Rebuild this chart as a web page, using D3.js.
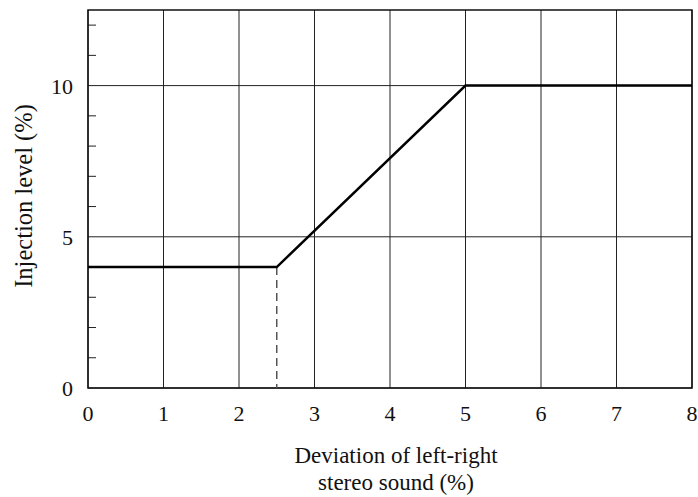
<!DOCTYPE html>
<meta charset="utf-8">
<style>
    html, body { margin: 0; padding: 0; background: #fff; }
    svg text { font-family: 'Liberation Serif', 'Times New Roman', serif; fill: #111; }
</style>
<body>
<svg id="chart" width="698" height="497"></svg>
<script src="https://d3js.org/d3.v7.min.js"></script>
<script>
    // curve points: deviation (%) -> injection level (%)
    var deviation = [0, 2.5, 5, 8];
    var injection = [4, 4, 10, 10];
    var xTicks = [0, 1, 2, 3, 4, 5, 6, 7, 8];
    var yLabelTicks = [0, 5, 10];
    var yMinorTicks = [1, 2, 3, 4, 6, 7, 8, 9, 11, 12];
    var kneeX = 2.5;

    var svg = d3.select("#chart");
    var pLeft = 88, pRight = 692, pTop = 10, pBottom = 388;

    var x = d3.scaleLinear().domain([0, 8]).range([pLeft, pRight]);
    var y = d3.scaleLinear().domain([0, 12.5]).range([pBottom, pTop]);

    // vertical grid
    svg.selectAll(".vgrid").data(xTicks).enter().append("line")
        .attr("x1", function (d) { return x(d); }).attr("x2", function (d) { return x(d); })
        .attr("y1", pTop).attr("y2", pBottom)
        .style("stroke", "#222").style("stroke-width", "1px");

    // horizontal grid at labelled ticks
    svg.selectAll(".hgrid").data(yLabelTicks).enter().append("line")
        .attr("x1", pLeft).attr("x2", pRight)
        .attr("y1", function (d) { return y(d); }).attr("y2", function (d) { return y(d); })
        .style("stroke", "#222").style("stroke-width", "1px");

    // minor ticks on y axis (inside)
    svg.selectAll(".minor").data(yMinorTicks).enter().append("line")
        .attr("x1", pLeft).attr("x2", pLeft + 8)
        .attr("y1", function (d) { return y(d); }).attr("y2", function (d) { return y(d); })
        .style("stroke", "#222").style("stroke-width", "1px");

    // frame
    svg.append("rect").attr("x", pLeft).attr("y", pTop)
        .attr("width", pRight - pLeft).attr("height", pBottom - pTop)
        .style("fill", "none").style("stroke", "#111").style("stroke-width", "1.5px");

    // dashed drop line
    svg.append("line")
        .attr("x1", x(kneeX)).attr("x2", x(kneeX))
        .attr("y1", y(injection[1])).attr("y2", pBottom)
        .style("stroke", "#555").style("stroke-width", "1.5px").style("stroke-dasharray", "8,5");

    // curve
    var pts = deviation.map(function (d, i) { return { x: d, y: injection[i] }; });
    var line = d3.line().x(function (d) { return x(d.x); }).y(function (d) { return y(d.y); });
    svg.append("path").attr("d", line(pts))
        .style("fill", "none").style("stroke", "#000").style("stroke-width", "2.5px");

    // tick labels
    svg.selectAll(".xl").data(xTicks).enter().append("text")
        .attr("x", function (d) { return x(d); }).attr("y", 421)
        .attr("text-anchor", "middle").style("font-size", "22px")
        .text(function (d) { return d; });

    svg.selectAll(".yl").data(yLabelTicks).enter().append("text")
        .attr("x", 73).attr("y", function (d) { return y(d) + 8; })
        .attr("text-anchor", "end").style("font-size", "22px")
        .text(function (d) { return d; });

    // axis titles
    svg.append("text").attr("x", 396).attr("y", 463)
        .attr("text-anchor", "middle").style("font-size", "23px")
        .text("Deviation of left-right");
    svg.append("text").attr("x", 396).attr("y", 490)
        .attr("text-anchor", "middle").style("font-size", "23px")
        .text("stereo sound (%)");

    svg.append("text")
        .attr("transform", "translate(32,196) rotate(-90)")
        .attr("text-anchor", "middle").style("font-size", "24.5px")
        .text("Injection level (%)");
</script>
</body>
